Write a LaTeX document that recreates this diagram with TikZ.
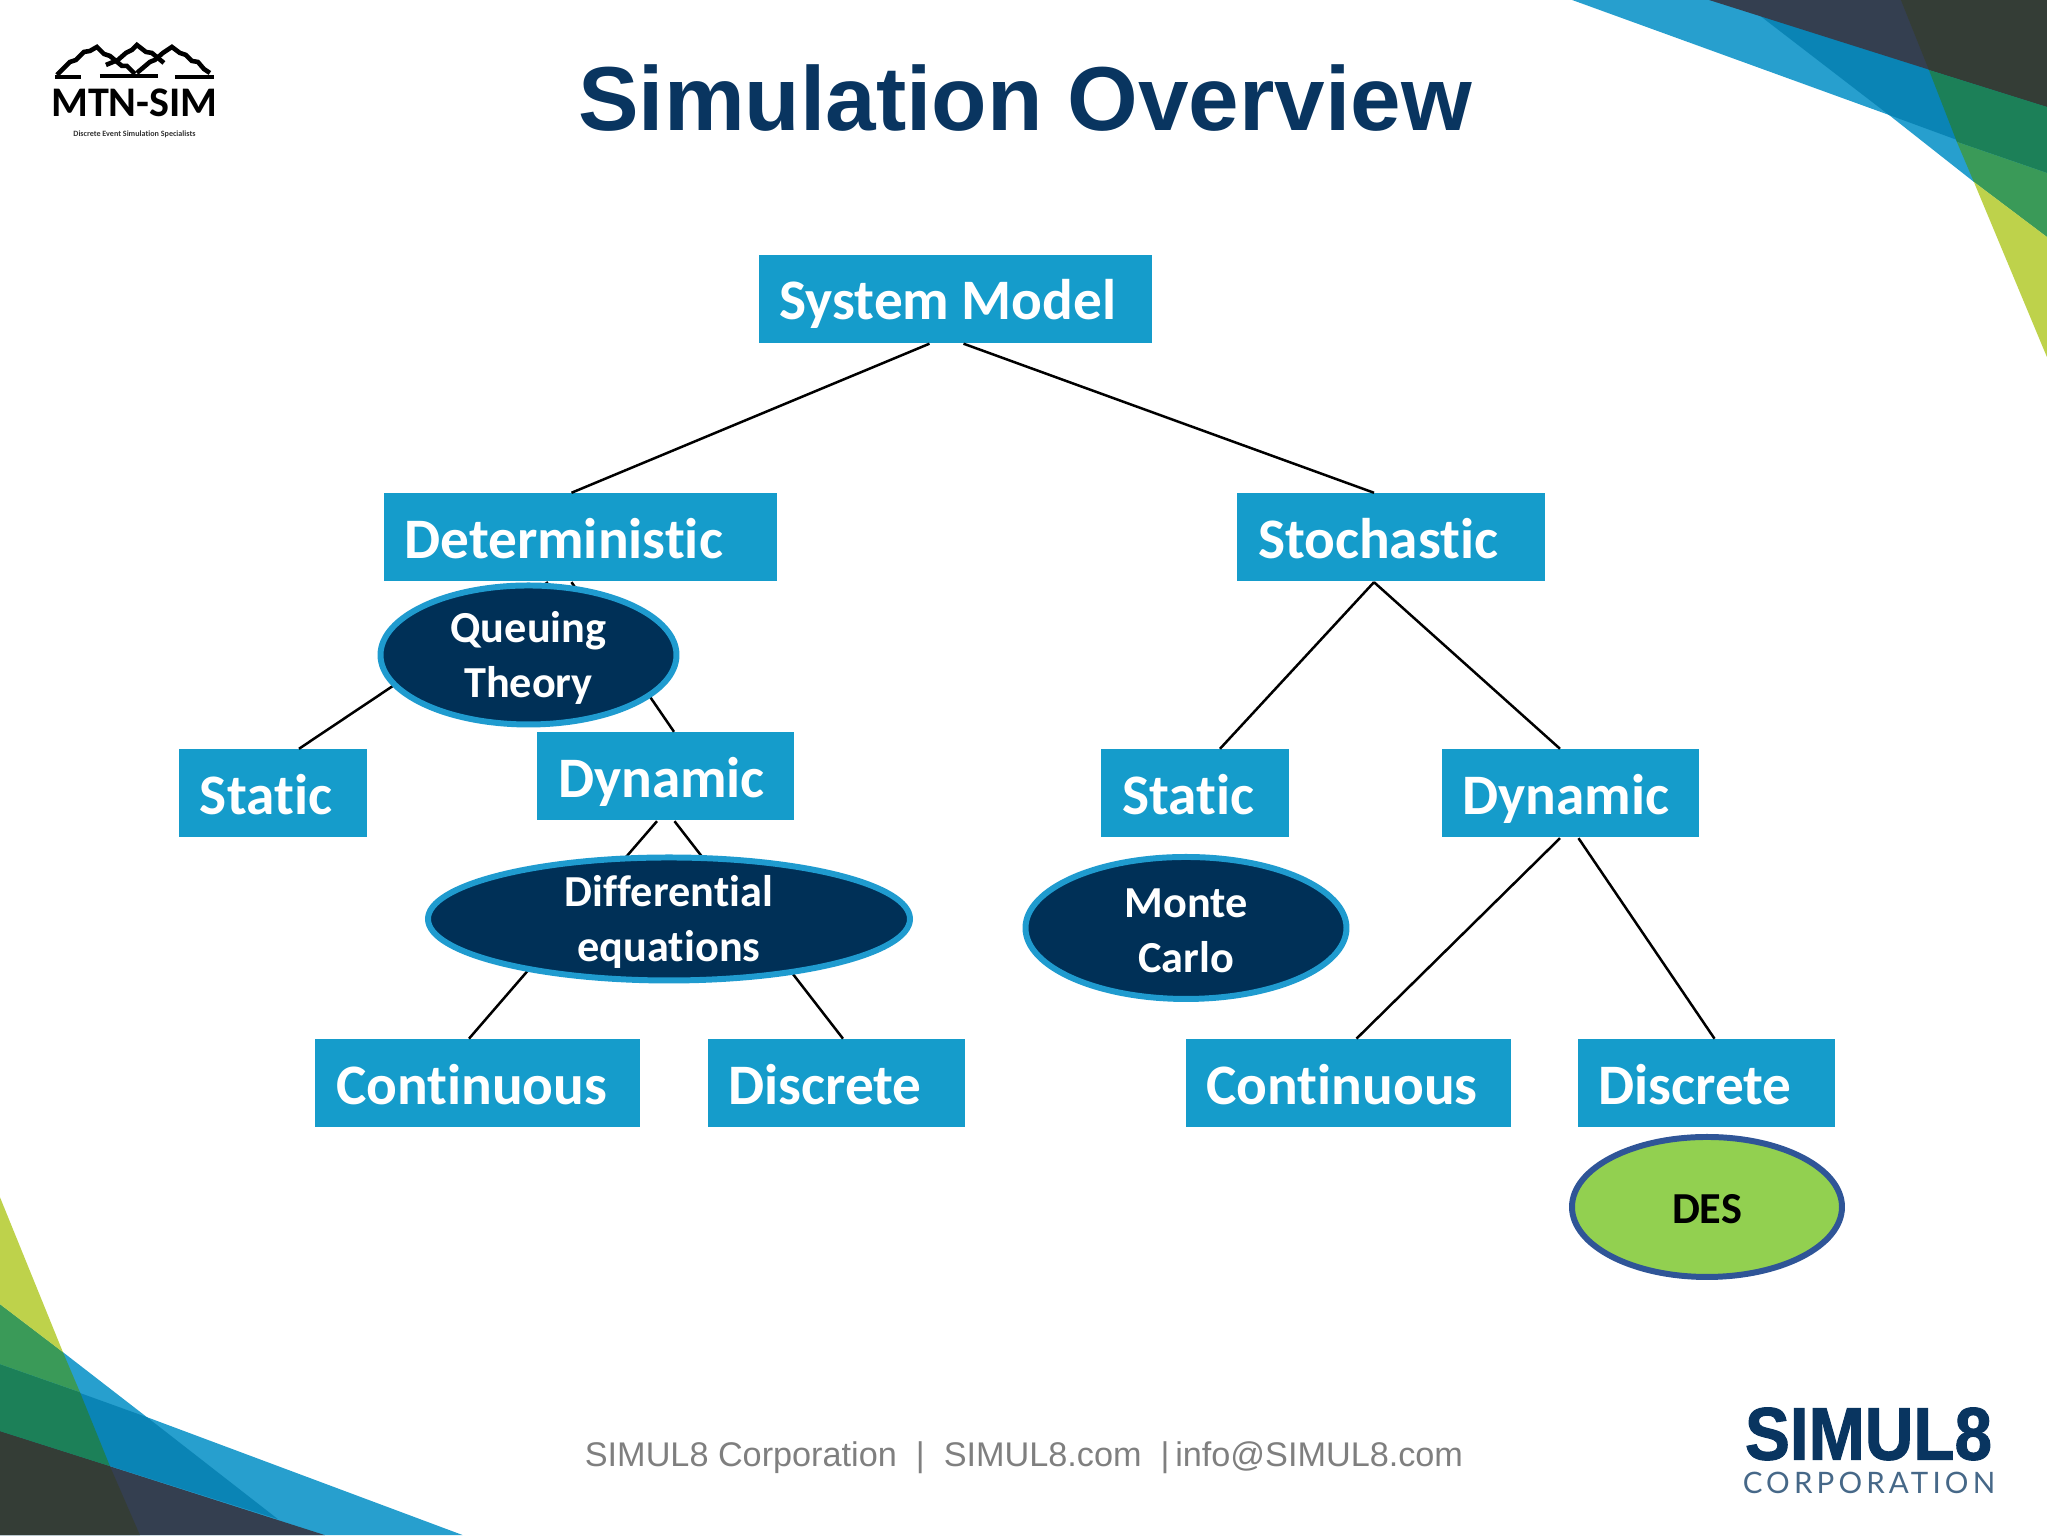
\documentclass[tikz,border=0pt]{standalone}
\usepackage{fontspec}
\usepackage{graphicx}
\setmainfont[Ligatures=NoCommon]{Carlito}
\newfontfamily\titlefont{Liberation Sans}
\newfontfamily\simulfont[BoldFeatures={FakeBold=1.5}]{Liberation Sans}
\newfontfamily\corpfont[LetterSpace=14]{Lato}
\usetikzlibrary{shapes.geometric}
\definecolor{boxblue}{HTML}{159CCB}
\definecolor{ovalnavy}{HTML}{003057}
\definecolor{ovalrim}{HTML}{1F9BCF}
\definecolor{desgreen}{HTML}{92D050}
\definecolor{desrim}{HTML}{2F5597}
\definecolor{titlenavy}{HTML}{093560}
\definecolor{footgray}{HTML}{7F7F7F}
\definecolor{cornerlight}{HTML}{279FCE}
\definecolor{cornermid}{HTML}{0A84B5}
\definecolor{cornerslate}{HTML}{343F50}
\definecolor{cornerdark}{HTML}{343D36}
\definecolor{cornerpine}{HTML}{1C8058}
\definecolor{cornergreen}{HTML}{3A9A58}
\definecolor{cornerlime}{HTML}{BED24B}
\tikzset{
	boxnode/.style={rectangle, fill=boxblue, text=white, font=\fontsize{16.3}{20}\selectfont\bfseries, text width=#1, align=left, inner xsep=0.21cm, inner ysep=0pt, text height=0.65cm, text depth=0.23cm},
	ovalshape/.style={ellipse, fill=ovalnavy, draw=ovalrim, line width=1.7pt, inner sep=0pt},
	ovaltext/.style={text=white, font=\fontsize{12.6}{15.6}\selectfont\bfseries, align=center, yshift=-0.03cm},
	linkline/.style={line width=0.25mm, color=black},
	ridgeline/.style={line width=1.3pt, color=black, line join=miter},
}

\begin{document}
\begin{tikzpicture}
	%%%%% START %%%%%
	\useasboundingbox (0, 0) rectangle (20.48, 15.36);

	% corner bands, in pixels of the slide
	\begin{scope}[shift={(0, 15.36)}, x=0.01cm, y=-0.01cm]
		\fill[cornerlight] (1573, 0) -- (1890, 115) -- (1975, 182) -- (2048, 237) -- (2048, 0) -- cycle;
		\fill[cornermid] (1760, 15) -- (1890, 115) -- (2048, 173) -- (2048, 107) -- cycle;
		\fill[cornerslate] (1710, 0) -- (2048, 107) -- (2048, 0) -- cycle;
		\fill[cornerdark] (1902, 0) -- (1930, 70) -- (2048, 107) -- (2048, 0) -- cycle;
		\fill[cornerpine] (1930, 70) -- (1958, 142) -- (2048, 173) -- (2048, 107) -- cycle;
		\fill[cornergreen] (1958, 142) -- (1975, 182) -- (2048, 237) -- (2048, 173) -- cycle;
		\fill[cornerlime] (1975, 182) -- (2048, 237) -- (2048, 357) -- cycle;

		\fill[cornerlight] (63, 1353) -- (147, 1418) -- (463, 1536) -- (0, 1536) -- (0, 1305) -- cycle;
		\fill[cornermid] (0, 1365) -- (147, 1418) -- (278, 1520) -- (0, 1432) -- cycle;
		\fill[cornerslate] (0, 1432) -- (325, 1536) -- (0, 1536) -- cycle;
		\fill[cornerdark] (0, 1432) -- (110, 1467) -- (140, 1536) -- (0, 1536) -- cycle;
		\fill[cornerpine] (0, 1365) -- (80, 1393) -- (110, 1467) -- (0, 1432) -- cycle;
		\fill[cornergreen] (0, 1305) -- (63, 1353) -- (80, 1393) -- (0, 1365) -- cycle;
		\fill[cornerlime] (0, 1198) -- (63, 1353) -- (0, 1305) -- cycle;

		% mountains of the logo
		\draw[ridgeline] (57, 75) -- (70, 62) -- (76, 60) -- (84, 52) -- (90, 51) -- (97, 47) -- (104, 54) -- (110, 56) -- (122, 66) -- (127, 66) -- (135, 74);
		\draw[ridgeline] (106, 65) -- (118, 60) -- (126, 53) -- (132, 50) -- (137, 45) -- (146, 52) -- (152, 53) -- (164, 63);
		\draw[ridgeline] (137, 73) -- (150, 62) -- (155, 60) -- (163, 53) -- (172, 47) -- (180, 53) -- (186, 55) -- (192, 61) -- (198, 62) -- (204, 69) -- (210, 73);
		\draw[line width=0.9pt] (55, 77) -- (81, 77) (100, 76) -- (158, 76) (175, 77) -- (214, 77);
	\end{scope}

	\node[font=\fontsize{25.85}{30}\selectfont\bfseries, text=titlenavy] (title) at (10.25, 14.38) {\titlefont Simulation Overview};

	\node[font=\fontsize{12}{14}\selectfont\bfseries, text=black, inner sep=0pt] (mtnlogo) at (1.345, 14.33) {MTN-SIM};
	\node[font=\fontsize{2.3}{3}\selectfont\bfseries, text=black!80, inner sep=0pt] (mtntag) at (1.345, 14.02) {Discrete Event Simulation Specialists};

	%%%%% boxes %%%%%
	\node[boxnode=3.51cm] (sysmodel) at (9.55, 12.37) {System\hspace{-0.065cm} Model};

	\node[boxnode=3.51cm] (determ) at (5.80, 9.985) {Deterministic};
	\node[boxnode=2.66cm] (stoch) at (13.91, 9.985) {Stochastic};

	\node[boxnode=1.46cm] (staticL) at (2.73, 7.425) {Static};
	\node[boxnode=2.15cm] (dynamicL) at (6.655, 7.595) {Dynamic};
	\node[boxnode=1.46cm] (staticR) at (11.95, 7.425) {Static};
	\node[boxnode=2.15cm] (dynamicR) at (15.70, 7.425) {Dynamic};

	\node[boxnode=2.83cm] (contL) at (4.775, 4.526) {Continuous};
	\node[boxnode=2.15cm] (discL) at (8.36, 4.526) {Discrete};
	\node[boxnode=2.83cm] (contR) at (13.48, 4.526) {Continuous};
	\node[boxnode=2.15cm] (discR) at (17.06, 4.526) {Discrete};

	%%%%% links %%%%%
	\draw[linkline] ([xshift=-0.255cm]sysmodel.south) -- ([xshift=-0.085cm]determ.north);
	\draw[linkline] ([xshift=0.085cm]sysmodel.south) -- ([xshift=-0.17cm]stoch.north);

	\draw[linkline] ([xshift=-0.32cm]determ.south) -- ([xshift=0.26cm]staticL.north);
	\draw[linkline] ([xshift=-0.085cm]determ.south) -- ([xshift=0.085cm]dynamicL.north);

	\draw[linkline] ([xshift=-0.085cm]dynamicL.south) -- ([xshift=-0.085cm]contL.north);
	\draw[linkline] ([xshift=0.09cm]dynamicL.south) -- ([xshift=0.07cm]discL.north);

	\draw[linkline] ([xshift=-0.17cm]stoch.south) -- ([xshift=0.25cm]staticR.north);
	\draw[linkline] ([xshift=-0.17cm]stoch.south) -- ([xshift=-0.1cm]dynamicR.north);

	\draw[linkline] ([xshift=-0.1cm]dynamicR.south) -- ([xshift=0.085cm]contR.north);
	\draw[linkline] ([xshift=0.085cm]dynamicR.south) -- ([xshift=0.085cm]discR.north);

	%%%%% ovals %%%%%
	\node[ovalshape, minimum width=2.96cm, minimum height=1.39cm] (queuing) at (5.285, 8.81) {};
	\node[ovaltext] (queuingtext) at (queuing) {Queuing\\Theory};

	\node[ovalshape, minimum width=4.82cm, minimum height=1.23cm] (diffeq) at (6.69, 6.17) {};
	\node[ovaltext] (diffeqtext) at (diffeq) {Differential\\equations};

	\node[ovalshape, minimum width=3.21cm, minimum height=1.42cm] (monte) at (11.86, 6.08) {};
	\node[ovaltext] (montetext) at (monte) {Monte\\Carlo};

	\node[ovalshape, fill=desgreen, draw=desrim, minimum width=2.70cm, minimum height=1.40cm] (des) at (17.07, 3.29) {};
	\node[ovaltext, text=black, yshift=0.01cm] (destext) at (des) {DES};

	%%%%% footer %%%%%
	\node[font=\fontsize{9.74}{12}\selectfont, text=footgray, inner sep=0pt] (footer) at (10.24, 0.78) {\titlefont SIMUL8 Corporation\ \ |\ \ SIMUL8.com\ \ |\,info@SIMUL8.com};

	\node[text=titlenavy, inner sep=0pt] (simullogo) at (18.685, 1.02) {\resizebox{2.47cm}{0.52cm}{\simulfont\bfseries SIMUL8}};
	\node[font=\fontsize{8.4}{10}\selectfont, text=titlenavy!75, inner sep=0pt] (simulcorp) at (18.69, 0.53) {\corpfont CORPORATION};
	%%%%% END %%%%%
\end{tikzpicture}
\end{document}
